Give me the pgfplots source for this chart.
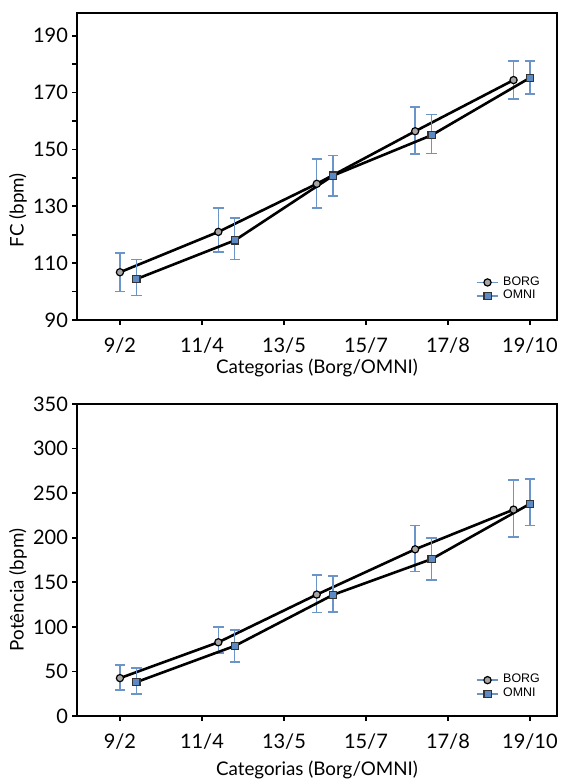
\documentclass[border=0pt]{standalone}
\usepackage{fontspec}
\setmainfont{Lato}
\newfontfamily\legfont{Liberation Sans}
\usepackage{pgfplots}
\pgfplotsset{compat=1.18}
\definecolor{errblue}{HTML}{6B95C9}
\definecolor{sqblue}{HTML}{5B8AC4}
\definecolor{circgray}{HTML}{A6A6A6}

\pgfplotsset{
  panel/.style={
    scale only axis, width=240pt,
    xmin=-0.524, xmax=5.33,
    xtick={0,...,5}, xticklabels={9/2,11/4,13/5,15/7,17/8,19/10},
    tick align=outside, tick pos=left,
    major tick length=2.5pt, minor tick length=2.5pt,
    axis line style={line width=1pt},
    every tick/.style={black, line width=0.8pt},
    tick label style={font=\fontsize{10}{11}\selectfont},
    xticklabel style={yshift=-3pt},
    yticklabel style={xshift=1.5pt},
    label style={font=\fontsize{9.4}{11}\selectfont},
    /pgf/number format/assume math mode=true,
    legend style={draw=none, fill=none, font=\legfont\fontsize{6.2}{7}\selectfont,
      anchor=west, row sep=-3pt, inner sep=0pt},
    legend cell align=left,
    legend image code/.code={
      \draw[errblue, line width=0.9pt] (0cm,0cm) -- (0.38cm,0cm);
      \draw[##1] plot coordinates {(0.19cm,0cm)};
    },
    error bars/y dir=both, error bars/y explicit,
    error bars/error bar style={errblue, line width=0.7pt},
    error bars/error mark options={errblue, rotate=90, mark size=2.6pt, line width=0.9pt},
  },
  borg/.style={black, line width=1.3pt, mark=*, mark size=1.8pt,
    mark options={fill=circgray, draw=black, line width=0.6pt}},
  omni/.style={black, line width=1.3pt, mark=square*, mark size=1.8pt,
    mark options={fill=sqblue, draw=black!80, line width=0.6pt}},
}

% x: BORG at 1.2*i, OMNI shifted by 0.2; ep/em = error up/down
\pgfplotstableread{
x   y     ep   em
0   106.8 6.7  6.8
1.2 121.0 8.4  7.1
2.4 137.9 8.6  8.4
3.6 156.4 8.4  8.0
4.8 174.4 6.7  6.6
}\fcborg
\pgfplotstableread{
x   y     ep   em
0.2 104.4 6.9  5.8
1.4 118.0 7.8  6.7
2.6 140.8 7.1  7.2
3.8 155.0 7.3  6.4
5.0 175.2 5.9  5.7
}\fcomni
\pgfplotstableread{
x   y     ep   em
0   42.5  15.1 13.0
1.2 82.7  17.5 12.3
2.4 136.2 22.0 20.2
3.6 187.0 26.6 25.0
4.8 231.5 33.5 30.5
}\potborg
\pgfplotstableread{
x   y     ep   em
0.2 38.0  15.5 13.3
1.4 78.6  17.9 17.6
2.6 136.0 21.1 18.9
3.8 176.0 23.4 23.0
5.0 238.0 28.0 24.4
}\potomni

\begin{document}
\begin{tikzpicture}
\useasboundingbox (0,0) rectangle (283pt,390pt);

\begin{axis}[panel,
  at={(38.5pt,230pt)}, anchor=south west, height=153.5pt,
  ymin=90, ymax=198,
  ytick={90,110,...,190}, minor ytick={100,120,...,180},
  xlabel={Categorias (Borg/OMNI)}, ylabel={FC (bpm)},
  xlabel shift=-4.2pt,
  ylabel style={at={(axis description cs:-0.123,0.358)}, anchor=center, rotate=0},
  legend style={at={(rel axis cs:0.83,0.10)}},
]
\addplot+[borg] table[x=x, y=y, y error plus=ep, y error minus=em] {\fcborg};
\addplot+[omni] table[x=x, y=y, y error plus=ep, y error minus=em] {\fcomni};
\legend{BORG, OMNI}
\end{axis}

\begin{axis}[panel,
  at={(38.5pt,32pt)}, anchor=south west, height=156pt,
  ymin=0, ymax=350,
  ytick={0,50,...,350},
  xlabel={Categorias (Borg/OMNI)}, ylabel={Potência (bpm)},
  xlabel shift=-1.5pt,
  ylabel style={at={(axis description cs:-0.123,0.404)}, anchor=center, rotate=0},
  legend style={at={(rel axis cs:0.83,0.093)}},
]
\addplot+[borg] table[x=x, y=y, y error plus=ep, y error minus=em] {\potborg};
\addplot+[omni] table[x=x, y=y, y error plus=ep, y error minus=em] {\potomni};
\legend{BORG, OMNI}
\end{axis}
\end{tikzpicture}
\end{document}
